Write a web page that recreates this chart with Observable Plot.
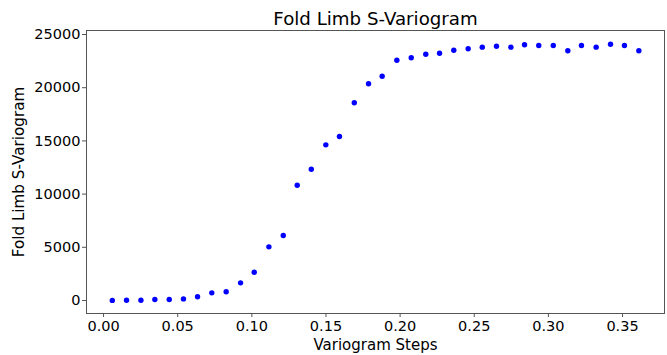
<!DOCTYPE html>
<html>
<head>
<meta charset="utf-8">
<script src="https://cdn.jsdelivr.net/npm/d3@7"></script>
<script src="https://cdn.jsdelivr.net/npm/@observablehq/plot@0.6"></script>
<style>
  html, body { margin: 0; padding: 0; background: #fff; }
  svg { font-family: "DejaVu Sans", sans-serif; }
</style>
</head>
<body>
<div id="chart"></div>
<script>
const title = "Fold Limb S-Variogram";
const xLabel = "Variogram Steps";
const yLabel = "Fold Limb S-Variogram";

const steps = [0.0059, 0.0155, 0.0252, 0.0346, 0.0443, 0.0539, 0.0634, 0.0730, 0.0827, 0.0924,
  0.1016, 0.1115, 0.1212, 0.1306, 0.1401, 0.1499, 0.1591, 0.1691, 0.1787, 0.1879,
  0.1978, 0.2075, 0.2173, 0.2266, 0.2362, 0.2459, 0.2554, 0.2650, 0.2747, 0.2839,
  0.2935, 0.3033, 0.3131, 0.3223, 0.3322, 0.3419, 0.3513, 0.3610];
const variogram = [10, 20, 30, 100, 100, 150, 350, 720, 820, 1660,
  2660, 5040, 6110, 10830, 12340, 14630, 15410, 18580, 20370, 21080,
  22580, 22810, 23150, 23240, 23520, 23660, 23810, 23900, 23810, 24030,
  23970, 23970, 23470, 23970, 23810, 24090, 23970, 23470];
const xTicks = [0, 0.05, 0.10, 0.15, 0.20, 0.25, 0.30, 0.35];
const yTicks = [0, 5000, 10000, 15000, 20000, 25000];

const data = steps.map((s, i) => ({x: s, y: variogram[i]}));

const chart = Plot.plot({
  width: 667,
  height: 355,
  marginLeft: 86,
  marginRight: 3,
  marginTop: 30,
  marginBottom: 42,
  style: {fontFamily: "DejaVu Sans, sans-serif", fontSize: "14.5px", color: "#000", background: "#fff"},
  x: {domain: [-0.0115, 0.3783], ticks: xTicks, tickFormat: d3.format(".2f")},
  y: {domain: [-1222, 25376], ticks: yTicks, tickFormat: d3.format("d")},
  marks: [
    Plot.axisX({ticks: xTicks, tickFormat: d3.format(".2f"), tickSize: 4, tickPadding: 3, fontSize: 14.5, label: null, stroke: "#555"}),
    Plot.axisY({ticks: yTicks, tickFormat: d3.format("d"), tickSize: 4, tickPadding: 2, fontSize: 14.5, label: null, stroke: "#555"}),
    Plot.text([xLabel], {frameAnchor: "bottom", dy: 36, fontSize: 15, text: d => d}),
    Plot.text([yLabel], {frameAnchor: "left", dx: -67, rotate: -90, textAnchor: "middle", fontSize: 15.2, text: d => d}),
    Plot.text([title], {frameAnchor: "top", dy: -18.5, fontSize: 18.2, text: d => d}),
    Plot.frame({stroke: "#555", strokeWidth: 1}),
    Plot.dot(data, {x: "x", y: "y", r: 2.7, fill: "#0000ff", stroke: "none"})
  ]
});
document.getElementById("chart").appendChild(chart);
</script>
</body>
</html>
